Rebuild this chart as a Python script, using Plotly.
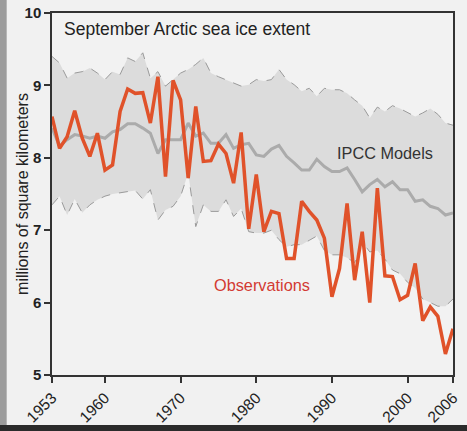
import plotly.graph_objects as go

years = list(range(1953, 2007))

observations = [8.57, 8.13, 8.29, 8.65, 8.27, 8.02, 8.34, 7.83, 7.90, 8.64,
                8.95, 8.89, 8.90, 8.48, 9.12, 7.74, 9.07, 8.80, 7.72, 8.71,
                7.95, 7.96, 8.19, 8.06, 7.65, 8.35, 7.02, 7.77, 6.98, 7.26,
                7.23, 6.61, 6.61, 7.40, 7.26, 7.14, 6.89, 6.08, 6.47, 7.37,
                6.31, 6.98, 6.00, 7.58, 6.37, 6.36, 6.04, 6.10, 6.54, 5.75,
                5.94, 5.81, 5.29, 5.64]

model_mean = [8.41, 8.16, 8.25, 8.32, 8.30, 8.27, 8.30, 8.27, 8.36, 8.39,
              8.47, 8.47, 8.41, 8.34, 8.06, 8.25, 8.25, 8.25, 8.48, 8.30,
              8.34, 8.20, 8.20, 8.32, 8.13, 8.18, 8.20, 8.04, 8.02, 8.12,
              8.17, 8.02, 7.93, 7.83, 7.83, 7.98, 7.88, 7.81, 7.81, 7.86,
              7.70, 7.53, 7.63, 7.70, 7.60, 7.67, 7.56, 7.56, 7.40, 7.42,
              7.33, 7.30, 7.21, 7.24]

model_upper = [9.40, 9.31, 9.10, 9.17, 9.19, 9.24, 9.17, 9.08, 9.19, 9.15,
               9.38, 9.33, 9.45, 9.10, 9.19, 8.99, 9.08, 9.17, 9.22, 9.29,
               9.38, 9.17, 9.12, 9.08, 9.03, 8.99, 9.01, 9.08, 9.06, 9.08,
               9.22, 9.08, 9.01, 8.92, 8.96, 8.85, 8.96, 8.94, 8.94, 8.89,
               8.80, 8.72, 8.55, 8.70, 8.64, 8.72, 8.68, 8.62, 8.57, 8.62,
               8.68, 8.60, 8.48, 8.45]

model_lower = [7.35, 7.47, 7.21, 7.43, 7.24, 7.35, 7.42, 7.47, 7.50, 7.52,
               7.53, 7.55, 7.43, 7.56, 7.14, 7.28, 7.33, 7.47, 7.79, 7.05,
               7.35, 7.26, 7.26, 7.42, 7.19, 7.30, 6.98, 6.96, 6.96, 7.00,
               6.87, 6.77, 6.80, 6.80, 6.86, 6.92, 6.72, 6.66, 6.66, 6.62,
               6.55, 6.84, 6.70, 6.72, 6.60, 6.45, 6.40, 6.28, 6.20, 6.05,
               6.00, 5.95, 5.95, 6.05]

x_ticks = [1953, 1960, 1970, 1980, 1990, 2000, 2006]
y_ticks = [5, 6, 7, 8, 9, 10]

FONT = "Liberation Sans, Arial, sans-serif"

fig = go.Figure()
fig.add_trace(go.Scatter(x=years, y=model_upper, mode="lines",
                         line=dict(color="#9a9a9a", width=1, dash="dash"),
                         hoverinfo="skip", showlegend=False))
fig.add_trace(go.Scatter(x=years, y=model_lower, mode="lines", fill="tonexty",
                         fillcolor="#dcdcdc",
                         line=dict(color="#9a9a9a", width=1, dash="dash"),
                         hoverinfo="skip", showlegend=False))
fig.add_trace(go.Scatter(x=years, y=model_mean, mode="lines",
                         line=dict(color="#ababab", width=3),
                         name="IPCC Models", showlegend=False))
fig.add_trace(go.Scatter(x=years, y=observations, mode="lines",
                         line=dict(color="#e0522a", width=3.5),
                         name="Observations", showlegend=False))

fig.update_layout(
    width=467, height=431,
    margin=dict(l=52, r=14, t=13, b=56),
    paper_bgcolor="#f1f1f1",
    plot_bgcolor="#f2f2f2",
    font=dict(family=FONT, color="#222"),
    xaxis=dict(range=[1953, 2006], tickvals=x_ticks, ticktext=[str(t) for t in x_ticks],
               tickangle=-45, ticks="outside", ticklen=6, tickwidth=1.5, tickcolor="#333",
               showgrid=False, zeroline=False, showline=True, linecolor="#333", linewidth=1.5,
               mirror=True, automargin=False, tickfont=dict(size=15.5, color="#222")),
    yaxis=dict(range=[5, 10], tickvals=y_ticks, ticks="outside", ticklen=6, tickwidth=1.5,
               tickcolor="#333", showgrid=False, zeroline=False, showline=True,
               linecolor="#333", linewidth=1.5, mirror=True, automargin=False,
               tickfont=dict(size=15, color="#222", family=FONT, weight="bold")),
    annotations=[
        dict(text="millions of square kilometers", xref="paper", yref="paper",
             x=-0.075, y=0.5, xanchor="center", yanchor="middle", textangle=-90,
             showarrow=False, font=dict(size=16, color="#222")),
        dict(text="September Arctic sea ice extent", xref="paper", yref="paper",
             x=0.024, y=0.99, xanchor="left", yanchor="top", showarrow=False,
             font=dict(size=17.5, color="#222")),
        dict(text="IPCC Models", xref="paper", yref="paper",
             x=0.955, y=0.612, xanchor="right", yanchor="middle", showarrow=False,
             font=dict(size=16.3, color="#333")),
        dict(text="Observations", xref="paper", yref="paper",
             x=0.398, y=0.249, xanchor="left", yanchor="middle", showarrow=False,
             font=dict(size=16.3, color="#d23a33")),
    ],
    shapes=[
        dict(type="rect", xref="paper", yref="paper", x0=-0.135, x1=-0.113, y0=-0.155, y1=1.04,
             fillcolor="#9c9c9c", line=dict(width=0), layer="below"),
        dict(type="rect", xref="paper", yref="paper", x0=-0.135, x1=1.04, y0=-0.155, y1=-0.138,
             fillcolor="#2b2b2b", line=dict(width=0), layer="below"),
    ],
)

fig.write_html("out.html", config={"displayModeBar": False},
               post_script="document.body.style.margin='0px';document.body.style.background='#f1f1f1';")
